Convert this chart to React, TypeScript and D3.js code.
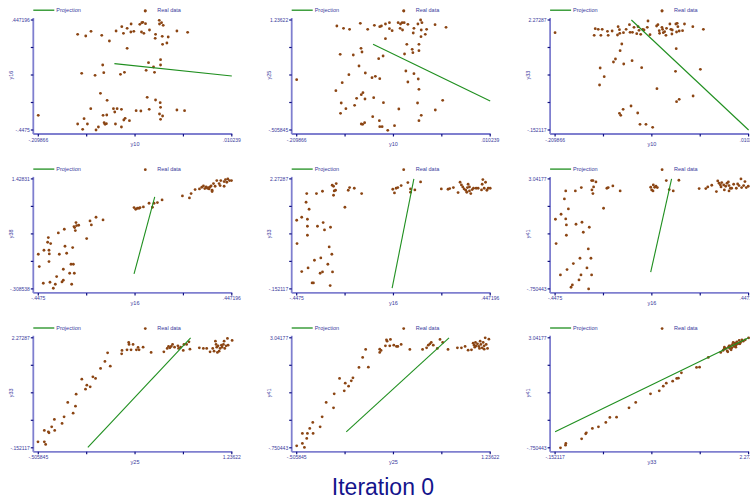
import React from "react";
import * as d3 from "d3";

// Variable ranges (axis extremes)
const y10Range: [number, number] = [-0.209866, 0.010239];
const y16Range: [number, number] = [-0.4475, 0.447196];
const y25Range: [number, number] = [-0.505845, 1.23622];
const y33Range: [number, number] = [-0.152117, 2.27287];
const y38Range: [number, number] = [-0.308538, 1.42831];
const y41Range: [number, number] = [-0.750443, 3.04177];

// Observations per variable pair [x, y]
const y10_y16: [number, number][] = [
  [-0.0883, 0.5203], [-0.1651, 0.3306], [-0.1559, 0.317], [-0.1499, 0.355], [-0.1377, 0.3224], [-0.129, 0.2763],
  [-0.1214, 0.3577], [-0.1149, 0.3929], [-0.113, 0.3387], [-0.1088, 0.3794], [-0.1046, 0.3495], [-0.1043, 0.4146],
  [-0.1012, 0.355], [-0.0944, 0.4119], [-0.0921, 0.4254], [-0.091, 0.4282], [-0.0879, 0.4173], [-0.0925, 0.3495],
  [-0.0898, 0.3387], [-0.0834, 0.3658], [-0.0765, 0.3306], [-0.0769, 0.298], [-0.0723, 0.4444], [-0.072, 0.4146],
  [-0.0697, 0.4254], [-0.0678, 0.4038], [-0.0689, 0.3143], [-0.0621, 0.3089], [-0.0685, 0.2492], [-0.0636, 0.2601],
  [-0.0522, 0.3577], [-0.04, 0.3468], [-0.1088, 0.2167],
  [-0.1366, 0.0811], [-0.1605, 0.0134], [-0.1453, -0.0029], [-0.1354, 0.0188], [-0.1164, 0.0052], [-0.1119, 0.0215],
  [-0.0845, 0.1001], [-0.0872, 0.0378], [-0.0788, 0.0649], [-0.0777, 0.0215], [-0.0708, 0.1245], [-0.0708, 0.0811],
  [-0.2099, -0.3282], [-0.1651, -0.3987], [-0.1594, -0.4421], [-0.1578, -0.3553], [-0.154, -0.3987], [-0.1502, -0.274],
  [-0.1442, -0.4475], [-0.1415, -0.4231], [-0.1392, -0.1493], [-0.1362, -0.3282], [-0.135, -0.3879], [-0.1339, -0.4014],
  [-0.1324, -0.396], [-0.132, -0.3255], [-0.1316, -0.2062], [-0.1244, -0.274], [-0.1229, -0.3011], [-0.1221, -0.3987],
  [-0.1202, -0.274], [-0.1153, -0.2794], [-0.1153, -0.4231], [-0.1126, -0.3662], [-0.1111, -0.3526], [-0.1062, -0.3716],
  [-0.0986, -0.2903], [-0.0932, -0.293], [-0.086, -0.1818], [-0.0837, -0.2794], [-0.0765, -0.2035], [-0.0712, -0.2252],
  [-0.0708, -0.2632], [-0.072, -0.3174], [-0.0708, -0.3607], [-0.0685, -0.3336], [-0.0522, -0.2848], [-0.0435, -0.2903],
];

const y10_y25: [number, number][] = [
  [-0.088, 1.3788], [-0.1642, 1.1412], [-0.1566, 1.1043], [-0.1497, 1.0885], [-0.1375, 1.1835], [-0.1291, 1.0885],
  [-0.1215, 1.1518], [-0.1154, 1.1307], [-0.1135, 1.1412], [-0.1089, 1.1729], [-0.1044, 1.194], [-0.1044, 1.099],
  [-0.1013, 1.0673], [-0.0945, 1.194], [-0.0918, 1.1729], [-0.0899, 1.194], [-0.0876, 1.194], [-0.0922, 1.1043],
  [-0.0895, 1.0779], [-0.0834, 1.1676], [-0.0765, 1.1043], [-0.072, 1.1729], [-0.0689, 1.2363], [-0.0674, 1.194],
  [-0.0682, 1.0779], [-0.0621, 1.0885], [-0.0636, 1.0093], [-0.0773, 1.0304], [-0.0685, 0.9723], [-0.0525, 1.1624],
  [-0.04, 1.1201], [-0.1089, 0.9406], [-0.0846, 0.8509], [-0.0785, 0.7717], [-0.0777, 0.7189], [-0.0708, 0.8509],
  [-0.0708, 0.7506], [-0.0872, 0.6978], [-0.1367, 0.7876], [-0.1356, 0.7295], [-0.1604, 0.6925], [-0.1455, 0.682],
  [-0.1166, 0.6239], [-0.1116, 0.6661], [-0.139, 0.5078], [-0.1318, 0.3969], [-0.1505, 0.3705], [-0.1242, 0.323],
  [-0.1204, 0.3441], [-0.1154, 0.3072], [-0.0857, 0.4286], [-0.0765, 0.3864], [-0.0834, 0.2544], [-0.0716, 0.3019],
  [-0.2099, 0.2913], [-0.1581, 0.2438], [-0.1653, 0.1171], [-0.1345, 0.0854], [-0.1364, 0.0538], [-0.1417, -0.0043],
  [-0.1322, -0.0149], [-0.1223, 0.0063], [-0.0708, 0.1382], [-0.1592, -0.0782], [-0.144, -0.1152], [-0.1539, -0.1679],
  [-0.16, -0.2418], [-0.1112, -0.0729], [-0.0937, -0.1732], [-0.0724, -0.0782], [-0.0438, -0.036], [-0.0522, -0.1891],
  [-0.0682, -0.2735], [-0.0708, -0.358], [-0.1234, -0.2946], [-0.1364, -0.4108], [-0.1348, -0.4161], [-0.1326, -0.3897],
  [-0.1158, -0.358], [-0.1154, -0.453], [-0.1127, -0.453], [-0.1063, -0.5111], [-0.0986, -0.4372],
];

const y10_y33: [number, number][] = [
  [-0.0883, 2.4711], [-0.2099, 1.9935], [-0.1642, 2.0817], [-0.1608, 2.067], [-0.1563, 2.067], [-0.1654, 1.9347],
  [-0.1578, 1.9347], [-0.1503, 2.0229], [-0.1495, 1.9347], [-0.145, 2.0303], [-0.1382, 2.1258], [-0.1367, 2.0596],
  [-0.1389, 1.9421], [-0.1363, 1.9788], [-0.1321, 1.9935], [-0.1291, 2.067], [-0.1246, 2.0009], [-0.1219, 2.0009],
  [-0.1201, 2.1111], [-0.117, 1.9715], [-0.1155, 2.1258], [-0.1144, 2.045], [-0.1125, 1.9568], [-0.1102, 2.067],
  [-0.1087, 2.0523], [-0.105, 2.1111], [-0.1042, 2.2507], [-0.1019, 1.9494], [-0.0944, 2.1405], [-0.0929, 2.1699],
  [-0.0914, 2.0376], [-0.091, 1.9788], [-0.0883, 2.1111], [-0.0876, 2.067], [-0.0868, 1.9935], [-0.0853, 2.0156],
  [-0.0838, 1.9347], [-0.0831, 2.089], [-0.0793, 2.1846], [-0.0782, 2.067], [-0.077, 1.9641], [-0.0766, 2.0523],
  [-0.0725, 2.1846], [-0.071, 2.1993], [-0.0702, 2.1258], [-0.0717, 2.0082], [-0.0687, 2.0303], [-0.0649, 2.0376],
  [-0.0627, 2.1846], [-0.0532, 2.1258], [-0.0412, 2.067], [-0.1253, 2.1699], [-0.134, 1.7437], [-0.1359, 1.5967],
  [-0.1412, 1.413], [-0.1435, 1.3469], [-0.1318, 1.3028], [-0.1223, 1.3763], [-0.1586, 1.2146], [-0.154, 1.0236],
  [-0.1593, 0.8399], [-0.1114, 1.222], [-0.0721, 1.6408], [-0.0729, 1.1411], [-0.0446, 1.1852], [-0.094, 0.7591],
  [-0.0529, 0.5974], [-0.0687, 0.5239], [-0.0717, 0.4725], [-0.1235, 0.377], [-0.1325, 0.3035], [-0.1367, 0.2153],
  [-0.1352, 0.1712], [-0.1159, 0.2226], [-0.1133, -0.0272], [-0.1065, -0.0272], [-0.0989, -0.0933],
];

const y16_y38: [number, number][] = [
  [-0.4475, 0.2389], [-0.4429, 0.0441], [-0.4244, -0.219], [-0.4213, 0.302], [-0.4012, 0.502], [-0.4043, 0.4283],
  [-0.3904, 0.4073], [-0.3981, 0.302], [-0.3966, 0.2441], [-0.3981, 0.1231], [-0.3935, -0.2032], [-0.3781, -0.298],
  [-0.3688, -0.2348], [-0.3627, -0.1138], [-0.3549, 0.5757], [-0.3503, 0.2389], [-0.338, -0.198], [-0.3318, -0.1717],
  [-0.3318, 0.002], [-0.3272, 0.6336], [-0.3241, 0.3652], [-0.3164, 0.2546], [-0.3025, -0.0611], [-0.2963, 0.081],
  [-0.2932, -0.2348], [-0.2886, 0.3441], [-0.2855, 0.081], [-0.2809, -0.0611], [-0.2824, 0.6757], [-0.2732, 0.7388],
  [-0.2763, 0.6125], [-0.2701, 0.6915], [-0.2608, 0.6967], [-0.2794, 0.6599], [-0.2238, 0.4862], [-0.2084, 0.7652],
  [-0.2022, 0.702], [-0.1806, 0.823], [-0.1482, 0.7809],
  [-0.0048, 0.9757], [0.0029, 0.9494], [0.0107, 0.9651], [0.0184, 0.9651], [0.023, 0.9757], [0.0384, 0.9862],
  [0.0646, 1.0441], [0.0801, 0.9809], [0.0878, 1.0441], [0.1032, 1.0546], [0.1248, 1.0967],
  [0.2189, 1.1599], [0.2513, 1.1283], [0.259, 1.1967], [0.2775, 1.2599], [0.2976, 1.2704], [0.3084, 1.2967],
  [0.3161, 1.3178], [0.3223, 1.2757], [0.3284, 1.302], [0.3346, 1.2809], [0.3423, 1.2704], [0.3469, 1.302],
  [0.3516, 1.3178], [0.3562, 1.2493], [0.3624, 1.3546], [0.3701, 1.3125], [0.3778, 1.402], [0.3886, 1.3546],
  [0.3963, 1.402], [0.3932, 1.323], [0.4117, 1.3125], [0.4117, 1.3862], [0.4179, 1.4178], [0.4241, 1.3757],
  [0.4287, 1.4283], [0.4364, 1.402], [0.4457, 1.402], [0.3562, 1.2283], [0.3392, 1.2914],
];

const y16_y33: [number, number][] = [
  [-0.446, 0.8472], [-0.4475, 1.3616], [-0.4243, 1.4277], [-0.398, 1.3836], [-0.4011, 1.9494], [-0.4042, 1.7584],
  [-0.3902, 1.6041], [-0.398, 1.2293], [-0.398, 1.0309], [-0.4243, 0.23], [-0.3949, 0.3108], [-0.3763, -0.0198],
  [-0.3701, -0.0198], [-0.3655, 0.4798], [-0.3562, 1.9494], [-0.3515, 1.2293], [-0.336, 0.5313], [-0.3391, 0.1933],
  [-0.3283, 0.2226], [-0.3283, 2.0009], [-0.3252, 1.3102], [-0.319, 1.1485], [-0.3035, 0.3917], [-0.2973, 0.7737],
  [-0.2912, 1.2073], [-0.285, 0.6121], [-0.2819, 0.2226], [-0.2927, -0.0786], [-0.2834, 2.1331], [-0.2772, 2.1111],
  [-0.2741, 2.0082], [-0.2679, 2.0229], [-0.2648, 2.1699], [-0.2772, 1.9127], [-0.2246, 1.6482], [-0.2091, 2.0229],
  [-0.2029, 2.0817], [-0.1812, 2.067], [-0.1472, 1.9494],
  [-0.0032, 2.045], [0.0045, 1.9641], [0.0123, 2.067], [0.02, 2.0817], [0.0355, 2.1258], [0.0664, 2.1919],
  [0.0788, 2.0523], [0.0788, 1.9788], [0.0989, 2.0303], [0.1253, 2.2066],
  [0.2212, 2.0523], [0.2522, 2.045], [0.2599, 2.0596], [0.277, 2.0817], [0.2986, 1.9715], [0.3079, 2.1993],
  [0.3141, 2.1405], [0.3203, 2.0964], [0.3265, 2.0523], [0.3342, 2.0229], [0.3389, 1.9788], [0.342, 2.0817],
  [0.3451, 2.1552], [0.3513, 2.0964], [0.3575, 1.9494], [0.3637, 2.0376], [0.3698, 2.067], [0.3822, 2.067],
  [0.3915, 2.067], [0.407, 2.0303], [0.4101, 2.1552], [0.4132, 2.258], [0.4194, 2.067], [0.4256, 2.1993],
  [0.4318, 2.0229], [0.438, 2.067], [0.4472, 2.067], [0.3513, 2.0082],
];

const y16_y41: [number, number][] = [
  [-0.446, 1.6514], [-0.4429, 0.8125], [-0.4229, -0.2677], [-0.4199, 1.8238], [-0.4045, 2.3524], [-0.3984, 2.6282],
  [-0.3984, 1.6629], [-0.3953, 1.4561], [-0.3953, 1.0998], [-0.3861, 2.0077], [-0.3923, -0.0839], [-0.3738, -0.6929],
  [-0.3677, -0.6125], [-0.3631, 0.123], [-0.3508, 1.479], [-0.3539, 2.6282], [-0.337, -0.4401], [-0.3263, 2.7432],
  [-0.3278, -0.2677], [-0.3232, 1.548], [-0.3171, 1.2032], [-0.3324, 0.3069], [-0.3002, -0.0264], [-0.294, 0.6286],
  [-0.2925, -0.7504], [-0.2894, 1.3756], [-0.2818, 0.3069], [-0.2787, -0.2677], [-0.2787, 2.9845], [-0.2726, 2.9845],
  [-0.2772, 2.6627], [-0.2726, 2.5363], [-0.2695, 2.7662], [-0.2587, 2.9385], [-0.2234, 2.0307], [-0.2081, 2.7202],
  [-0.202, 2.7432], [-0.1805, 2.8006], [-0.1467, 2.6282],
  [-0.0055, 2.7547], [-0.0009, 2.6627], [0.0067, 2.8351], [0.0129, 2.7547], [0.019, 2.7891], [0.0252, 2.7432],
  [0.0052, 2.6282], [0.0666, 2.9845], [0.0804, 2.6742], [0.0988, 2.6282], [0.1249, 2.996],
  [0.2185, 2.7087], [0.2492, 2.7087], [0.2584, 2.7662], [0.2768, 2.8236], [0.2983, 2.6053], [0.3045, 2.973],
  [0.3106, 2.8926], [0.3167, 2.8351], [0.3198, 2.7662], [0.3229, 2.9155], [0.3321, 2.8351], [0.3351, 2.6627],
  [0.3413, 2.7891], [0.3474, 2.8926], [0.3536, 2.9385], [0.3566, 2.8121], [0.3566, 2.6282], [0.3628, 2.7202],
  [0.3689, 2.7202], [0.3781, 2.8581], [0.3904, 2.7202], [0.3965, 2.8696], [0.4027, 2.8121], [0.4119, 3.0418],
  [0.4149, 2.7432], [0.4242, 2.8121], [0.4303, 2.95], [0.4364, 2.7432], [0.4456, 2.7891],
];

const y25_y33: [number, number][] = [
  [-0.5088, -0.0198], [-0.4515, -0.0198], [-0.4395, -0.0786], [-0.4515, 0.23], [-0.4154, 0.2006], [-0.4094, 0.1786],
  [-0.3852, 0.3108], [-0.3611, 0.4725], [-0.3581, 0.23], [-0.2918, 0.3843], [-0.2737, 0.5313], [-0.2406, 0.8472],
  [-0.1923, 0.6121], [-0.1712, 0.7664], [-0.1652, 1.0309], [-0.114, 1.3616], [-0.0808, 1.1411], [-0.0688, 1.2293],
  [-0.0386, 1.1926], [-0.0145, 1.413], [0.0096, 1.3763], [0.0548, 1.5967], [0.094, 1.751], [0.1181, 1.9421],
  [0.1422, 1.6482], [0.2477, 1.9935], [0.2447, 1.92], [0.2929, 2.0082], [0.308, 2.1699], [0.311, 2.1258],
  [0.3291, 2.0082], [0.3472, 2.1258], [0.3773, 2.0082], [0.3924, 2.0596], [0.4014, 2.0082], [0.4376, 2.067],
  [0.5099, 1.9494], [0.6245, 1.9641], [0.6546, 2.0376], [0.6666, 2.0817], [0.6787, 2.0523], [0.6908, 2.0817],
  [0.7028, 2.1258], [0.7209, 2.067], [0.751, 2.0964], [0.7571, 2.0376], [0.7752, 2.067], [0.7993, 1.9935],
  [0.8053, 2.1258], [0.8294, 2.1258], [0.8505, 2.1846], [0.8595, 2.0229], [0.9439, 2.0523], [0.9801, 2.0376],
  [1.0102, 2.0376], [1.0404, 1.9641], [1.0645, 2.0376], [1.0766, 1.9788], [1.0886, 2.1993], [1.0946, 2.1258],
  [1.1007, 2.067], [1.1127, 2.0964], [1.1218, 1.9788], [1.1308, 2.0376], [1.1429, 2.1111], [1.1489, 2.067],
  [1.1609, 2.1258], [1.173, 2.0376], [1.1851, 2.0964], [1.1971, 2.258], [1.2031, 2.1111], [1.2393, 2.214],
  [1.167, 2.1993], [1.1067, 1.9494],
];

const y25_y41: [number, number][] = [
  [-0.5058, -0.6814], [-0.4546, -0.601], [-0.4365, -0.7389], [-0.4154, -0.4286], [-0.4546, -0.2562], [-0.4094, -0.2562],
  [-0.3883, -0.0839], [-0.3581, -0.2562], [-0.3611, 0.123], [-0.2948, -0.0264], [-0.2767, 0.3184], [-0.2406, 0.8125],
  [-0.1743, 0.6286], [-0.1682, 1.1113], [-0.12, 1.6399], [-0.0778, 1.2147], [-0.0688, 1.479], [-0.0386, 1.3756],
  [-0.0145, 1.5595], [0.0006, 1.6629], [0.0548, 2.0192], [0.088, 2.3639], [0.1151, 2.6397], [0.1392, 2.0307],
  [0.2417, 2.6512], [0.2417, 2.5363], [0.2537, 2.6053], [0.302, 2.973], [0.308, 2.927], [0.3381, 2.9845],
  [0.2929, 2.7662], [0.3321, 2.7662], [0.3683, 2.7891], [0.3924, 2.7432], [0.4044, 2.7432], [0.4346, 2.8121],
  [0.5129, 2.6397], [0.6275, 2.6397], [0.6636, 2.6972], [0.6787, 2.7891], [0.6938, 2.8351], [0.7058, 2.881],
  [0.7239, 2.7891], [0.7601, 2.6742], [0.7842, 2.9845], [0.8083, 2.881], [0.8565, 2.6397], [0.9409, 2.6972],
  [0.9771, 2.6972], [1.0102, 2.7432], [1.0374, 2.6168], [1.0675, 2.6282], [1.0826, 2.8581], [1.0916, 2.7891],
  [1.1037, 2.881], [1.1097, 2.7662], [1.1218, 2.8351], [1.1338, 2.7432], [1.1459, 2.927], [1.1519, 2.8121],
  [1.164, 2.6972], [1.173, 2.881], [1.182, 2.7662], [1.1911, 3.0418], [1.2001, 2.8121], [1.2122, 2.6742],
  [1.2242, 2.996], [1.182, 2.6512], [1.1399, 2.6742], [1.0976, 2.7202],
];

const y33_y41: [number, number][] = [
  [-0.0847, -0.7504], [-0.0216, -0.6585], [-0.0174, -0.601], [0.1805, -0.4401], [0.231, -0.2677], [0.2394, -0.2333],
  [0.3152, -0.0839], [0.391, -0.0264], [0.4836, 0.123], [0.5341, 0.2954], [0.6183, 0.3069], [0.7741, 0.6286],
  [0.8583, 0.8125], [1.0435, 1.1113], [1.153, 1.2147], [1.2035, 1.3756], [1.2414, 1.479], [1.3214, 1.548],
  [1.3719, 1.6399], [1.393, 1.6514], [1.4309, 1.8353], [1.6203, 2.0192], [1.6582, 2.0307], [1.7677, 2.3639],
  [1.9234, 2.5363], [1.9529, 2.6053], [1.9655, 2.6512], [1.9866, 2.6742], [2.0034, 2.5938], [2.0203, 2.7202],
  [2.0371, 2.6742], [2.0455, 2.7662], [2.0624, 2.6972], [2.0708, 2.8121], [2.0876, 2.7432], [2.1003, 2.8581],
  [2.1129, 2.7891], [2.1255, 2.9041], [2.1381, 2.8351], [2.155, 2.95], [2.1718, 2.881], [2.1887, 2.973],
  [2.2055, 2.927], [2.2308, 2.973], [2.2729, 3.0418], [2.0118, 2.5593], [1.9697, 2.7202], [2.1129, 2.7202],
  [2.0792, 2.881], [2.1634, 2.8351], [2.0539, 2.6282], [2.0287, 2.7662],
];

// Projection segments [[x1, y1], [x2, y2]]
const proj_y10_y16: [number, number][] = [[-0.1233, 0.092], [0.010239, -0.0083]];
const proj_y10_y25: [number, number][] = [[-0.123, 0.8509], [0.010239, -0.0465]];
const proj_y10_y33: [number, number][] = [[-0.1231, 2.27287], [0.010239, -0.152117]];
const proj_y16_y38: [number, number][] = [[-0.0048, -0.0717], [0.0909, 1.1441]];
const proj_y16_y33: [number, number][] = [[-0.0063, -0.1374], [0.0943, 2.27287]];
const proj_y16_y41: [number, number][] = [[-0.0055, -0.1758], [0.0911, 3.04177]];
const proj_y25_y33: [number, number][] = [[-0.0597, -0.1448], [0.8656, 2.27287]];
const proj_y25_y41: [number, number][] = [[-0.0597, -0.1988], [0.8656, 3.04177]];
const proj_y33_y41: [number, number][] = [[-0.152117, -0.1988], [2.27287, 3.04177]];

const legendLabels = ["Projection", "Real data"];
const chartTitle = "Iteration 0";

type Panel = {
  xName: string; yName: string;
  xDom: [number, number]; yDom: [number, number];
  pts: [number, number][]; proj: [number, number][];
};

const panels: Panel[] = [
  { xName: "y10", yName: "y16", xDom: y10Range, yDom: y16Range, pts: y10_y16, proj: proj_y10_y16 },
  { xName: "y10", yName: "y25", xDom: y10Range, yDom: y25Range, pts: y10_y25, proj: proj_y10_y25 },
  { xName: "y10", yName: "y33", xDom: y10Range, yDom: y33Range, pts: y10_y33, proj: proj_y10_y33 },
  { xName: "y16", yName: "y38", xDom: y16Range, yDom: y38Range, pts: y16_y38, proj: proj_y16_y38 },
  { xName: "y16", yName: "y33", xDom: y16Range, yDom: y33Range, pts: y16_y33, proj: proj_y16_y33 },
  { xName: "y16", yName: "y41", xDom: y16Range, yDom: y41Range, pts: y16_y41, proj: proj_y16_y41 },
  { xName: "y25", yName: "y33", xDom: y25Range, yDom: y33Range, pts: y25_y33, proj: proj_y25_y33 },
  { xName: "y25", yName: "y41", xDom: y25Range, yDom: y41Range, pts: y25_y41, proj: proj_y25_y41 },
  { xName: "y33", yName: "y41", xDom: y33Range, yDom: y41Range, pts: y33_y41, proj: proj_y33_y41 },
];

const W = 750;
const H = 504;
const COL_STEP = 258.4;
const ROW_STEP = 158.9;
const AXIS_COLOR = "#7f7fcf";
const TICK_COLOR = "#101080";
const TEXT_COLOR = "#3a3a9c";
const POINT_COLOR = "#8b4513";
const LINE_COLOR = "#1f8f1f";
const FONT = "'Liberation Sans', Arial, sans-serif";

// Numbers print with up to 6 significant digits, ASCII minus and no leading zero
const fmt = (v: number) =>
  d3.format(".6~g")(v).replace("\u2212", "-").replace(/^(-?)0\./, "$1.");

function PanelView({ p, index }: { p: Panel; index: number }) {
  const col = index % 3;
  const row = Math.floor(index / 3);
  const axisX = 33.3 + col * COL_STEP;
  const top = 20 + row * ROW_STEP;
  const bottom = top + 110;
  const baseY = bottom + 4;

  const x = d3.scaleLinear().domain(p.xDom).range([axisX + 5, axisX + 198.5]);
  const y = d3.scaleLinear().domain(p.yDom).range([bottom, top]);
  const xTicks = d3.range(5).map((i) => p.xDom[0] + (i * (p.xDom[1] - p.xDom[0])) / 4);
  const yTicks = d3.range(5).map((i) => p.yDom[0] + (i * (p.yDom[1] - p.yDom[0])) / 4);
  const line = d3.line<[number, number]>().x((d) => x(d[0])).y((d) => y(d[1]));
  const legY = top - 9.8;

  return (
    <g>
      {/* legend */}
      <line x1={axisX} x2={axisX + 21} y1={legY} y2={legY} stroke={LINE_COLOR} strokeWidth={1.3} />
      <text x={axisX + 23} y={legY + 1.8} fontSize={5.5} fill={TEXT_COLOR} fontFamily={FONT}>{legendLabels[0]}</text>
      <circle cx={axisX + 112} cy={legY + 0.6} r={1.4} fill={POINT_COLOR} />
      <text x={axisX + 124} y={legY + 1.8} fontSize={5.5} fill={TEXT_COLOR} fontFamily={FONT}>{legendLabels[1]}</text>

      {/* axes */}
      <line x1={axisX} x2={axisX} y1={top - 2} y2={baseY} stroke={AXIS_COLOR} strokeWidth={1.8} />
      <line x1={axisX} x2={axisX + 199} y1={baseY} y2={baseY} stroke={AXIS_COLOR} strokeWidth={1.8} />
      {yTicks.map((t, i) => (
        <line key={"yt" + i} x1={axisX - 2.5} x2={axisX} y1={y(t)} y2={y(t)} stroke={TICK_COLOR} strokeWidth={1.2} />
      ))}
      {xTicks.map((t, i) => (
        <line key={"xt" + i} x1={x(t)} x2={x(t)} y1={baseY} y2={baseY + 2.5} stroke={TICK_COLOR} strokeWidth={1.2} />
      ))}
      {[0, 4].map((i) => (
        <text key={"yl" + i} x={axisX - 3.5} y={y(yTicks[i]) + 1.8} fontSize={5} textAnchor="end" fill={TEXT_COLOR} fontFamily={FONT}>
          {fmt(yTicks[i])}
        </text>
      ))}
      {[0, 4].map((i) => (
        <text key={"xl" + i} x={x(xTicks[i])} y={baseY + 7.5} fontSize={5} textAnchor="middle" fill={TEXT_COLOR} fontFamily={FONT}>
          {fmt(xTicks[i])}
        </text>
      ))}
      <text x={x(xTicks[2])} y={baseY + 11.8} fontSize={5.5} textAnchor="middle" fill={TEXT_COLOR} fontFamily={FONT}>{p.xName}</text>
      <text
        transform={`translate(${axisX - 20.5},${(top + bottom) / 2}) rotate(-90)`}
        fontSize={5.5} textAnchor="middle" fill={TEXT_COLOR} fontFamily={FONT}
      >
        {p.yName}
      </text>

      {/* data */}
      {p.pts.map((d, i) => (
        <circle key={"p" + i} cx={x(d[0])} cy={y(d[1])} r={1.4} fill={POINT_COLOR} />
      ))}
      <path d={line(p.proj) || ""} fill="none" stroke={LINE_COLOR} strokeWidth={1.1} />
    </g>
  );
}

export default function App() {
  return (
    <svg width={W} height={H} style={{ position: "absolute", left: 0, top: 0, background: "#fff" }}>
      {panels.map((p, i) => (
        <PanelView key={i} p={p} index={i} />
      ))}
      <text x={383} y={495} fontSize={23} textAnchor="middle" fill="#14148c" fontFamily={FONT}>{chartTitle}</text>
    </svg>
  );
}
